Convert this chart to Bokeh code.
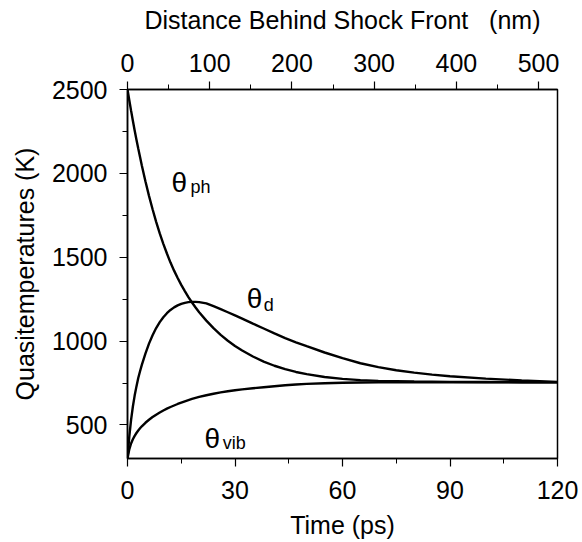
from bokeh.plotting import figure
from bokeh.models import LinearAxis, Range1d, SingleIntervalTicker, ColumnDataSource
from bokeh.core.properties import value
from bokeh.embed import file_html
from bokeh.resources import INLINE

# ---- data ----
time_ps = [0, 0.5, 1, 1.5, 2, 2.5, 3, 3.5, 4, 5, 6, 7, 8, 9, 10, 11, 12, 13, 14, 15,
           16, 17, 18, 19, 20, 22, 24, 26, 28, 30, 32, 35, 38, 41, 44, 47, 50, 55, 60,
           65, 70, 75, 80, 85, 90, 100, 110, 120]
theta_ph = [2500, 2436, 2374, 2314, 2256, 2201, 2148, 2097, 2047, 1953, 1866, 1786, 1711,
            1642, 1580, 1522, 1468, 1420, 1376, 1335, 1298, 1262, 1230, 1200, 1172, 1122,
            1077, 1037, 1002, 971, 944, 908, 878, 853, 833, 816, 803, 786, 775, 767, 763,
            761, 759, 758, 757, 756, 755, 755]
theta_d = [300, 430, 530, 610, 675, 730, 780, 820, 858, 925, 985, 1035, 1078, 1113, 1142,
           1166, 1186, 1201, 1213, 1222, 1228, 1232, 1234, 1234, 1232, 1225, 1208, 1190,
           1172, 1153, 1134, 1104, 1075, 1046, 1018, 993, 970, 932, 898, 868, 845, 826,
           812, 800, 790, 776, 765, 757]
theta_vib = [300, 355, 390, 415, 435, 452, 467, 480, 492, 513, 531, 547, 561, 574, 586,
             597, 607, 616, 625, 633, 641, 648, 655, 661, 667, 677, 686, 694, 701, 707,
             712, 719, 725, 731, 737, 741, 745, 749, 752, 753, 754, 754, 755, 755, 755,
             755, 755, 755]

x_range = (0, 120)
y_range = (300, 2500)
nm_range = (0, 523)
FONT = "Liberation Sans"

src = ColumnDataSource(dict(t=time_ps, ph=theta_ph, d=theta_d, vib=theta_vib))

p = figure(width=582, height=542, x_range=x_range, y_range=y_range,
           output_backend="svg", toolbar_location=None,
           min_border_left=127, min_border_right=25, min_border_top=89, min_border_bottom=84,
           x_axis_location=None, y_axis_location=None)
p.extra_x_ranges = {"nm": Range1d(*nm_range)}
p.grid.visible = False
p.outline_line_color = "black"
p.outline_line_width = 1.5
p.background_fill_color = "white"
p.border_fill_color = "white"

for col in ["ph", "d", "vib"]:
    p.line("t", col, source=src, line_color="black", line_width=2.4)


def style(ax, tick_size="25px", label_size="25px"):
    ax.axis_line_color = "black"
    ax.axis_line_width = 1.5
    ax.major_tick_line_color = "black"
    ax.minor_tick_line_color = "black"
    ax.major_tick_line_width = 1.2
    ax.minor_tick_line_width = 1.0
    ax.major_tick_out = 8
    ax.major_tick_in = 0
    ax.minor_tick_out = 5
    ax.minor_tick_in = 0
    ax.major_label_text_font = FONT
    ax.major_label_text_font_size = tick_size
    ax.major_label_text_color = "black"
    ax.axis_label_text_font = FONT
    ax.axis_label_text_font_size = label_size
    ax.axis_label_text_font_style = "normal"
    ax.axis_label_text_color = "black"


bottom = LinearAxis(ticker=SingleIntervalTicker(interval=30, num_minor_ticks=2),
                    axis_label="Time (ps)")
style(bottom)
bottom.major_label_standoff = 14
bottom.axis_label_standoff = 9
p.add_layout(bottom, "below")

left = LinearAxis(ticker=SingleIntervalTicker(interval=500, num_minor_ticks=2),
                  axis_label="Quasitemperatures (K)")
style(left)
left.major_label_standoff = 12
left.axis_label_standoff = 10
p.add_layout(left, "left")

top = LinearAxis(x_range_name="nm", ticker=SingleIntervalTicker(interval=100, num_minor_ticks=2),
                 axis_label="Distance Behind Shock Front\u00a0\u00a0 (nm)")
style(top)
top.major_label_standoff = 10
top.axis_label_standoff = 17
p.add_layout(top, "above")

# ---- curve labels ----
theta_lbl = dict(x=[12.3, 33.3, 21.5], y=[1947, 1256, 421], text=["θ", "θ", "θ"])
sub_lbl = dict(x=[17.6, 38.0, 26.6], y=[1917, 1214, 391], text=["ph", "d", "vib"])
p.text(x="x", y="y", text="text", source=ColumnDataSource(theta_lbl),
       text_font=value(FONT), text_font_size="28px", text_baseline="alphabetic",
       text_align="left", text_color="black")
p.text(x="x", y="y", text="text", source=ColumnDataSource(sub_lbl),
       text_font=value(FONT), text_font_size="18px", text_baseline="alphabetic",
       text_align="left", text_color="black")

open("out.html", "w").write(file_html(p, INLINE))
